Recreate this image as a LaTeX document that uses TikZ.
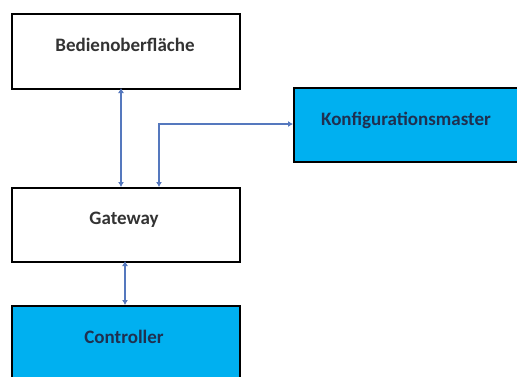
\documentclass[tikz,border=0pt]{standalone}
\usepackage{fontspec}
\setmainfont{Carlito}
\usetikzlibrary{arrows.meta}
\definecolor{boxblue}{HTML}{00B0F0}
\definecolor{linkblue}{HTML}{5578BE}
\definecolor{darktext}{HTML}{1F3050}
\tikzset{
  blockbox/.style={draw=black, line width=2pt, rectangle, inner sep=0pt},
  plainbox/.style={blockbox, fill=white},
  bluebox/.style={blockbox, fill=boxblue},
  boxtext/.style={font=\bfseries\fontsize{19}{21}\selectfont},
  link/.style={draw=linkblue, line width=2.4pt, {Latex[length=5pt,width=6pt]}-{Latex[length=5pt,width=6pt]}}
}
\begin{document}
\begin{tikzpicture}[x=1pt,y=-1pt]
\useasboundingbox (0,0) rectangle (517,376);
\clip (0,0) rectangle (517,376);
% boxes
\node[plainbox, minimum width=228pt, minimum height=75pt, anchor=north west] (bed) at (11,13) {};
\node[boxtext, text=black!80] (bedtxt) at (125,45) {Bedienoberfläche};
\node[plainbox, minimum width=228pt, minimum height=74pt, anchor=north west] (gw) at (11,187) {};
\node[boxtext, text=black!80] (gwtxt) at (124,220) {Gateway};
\node[bluebox, minimum width=228pt, minimum height=90pt, anchor=north west] (ctl) at (11,305) {};
\node[boxtext, text=darktext] (ctltxt) at (124,337) {Controller};
\node[bluebox, minimum width=240pt, minimum height=74pt, anchor=north west] (kfg) at (293,87) {};
\node[boxtext, text=darktext] (kfgtxt) at (406,120) {Konfigurationsmaster};
% connectors
\coordinate (bedlink) at (121,88);
\coordinate (gwlinkA) at (121,187);
\coordinate (gwlinkB) at (159,187);
\coordinate (gwlinkC) at (125,261);
\coordinate (ctllink) at (125,305);
\coordinate (kfglink) at (293,124);
\draw[link] (bedlink) -- (gwlinkA);
\draw[link] (gwlinkB) |- (kfglink);
\draw[link] (gwlinkC) -- (ctllink);
\end{tikzpicture}
\end{document}
